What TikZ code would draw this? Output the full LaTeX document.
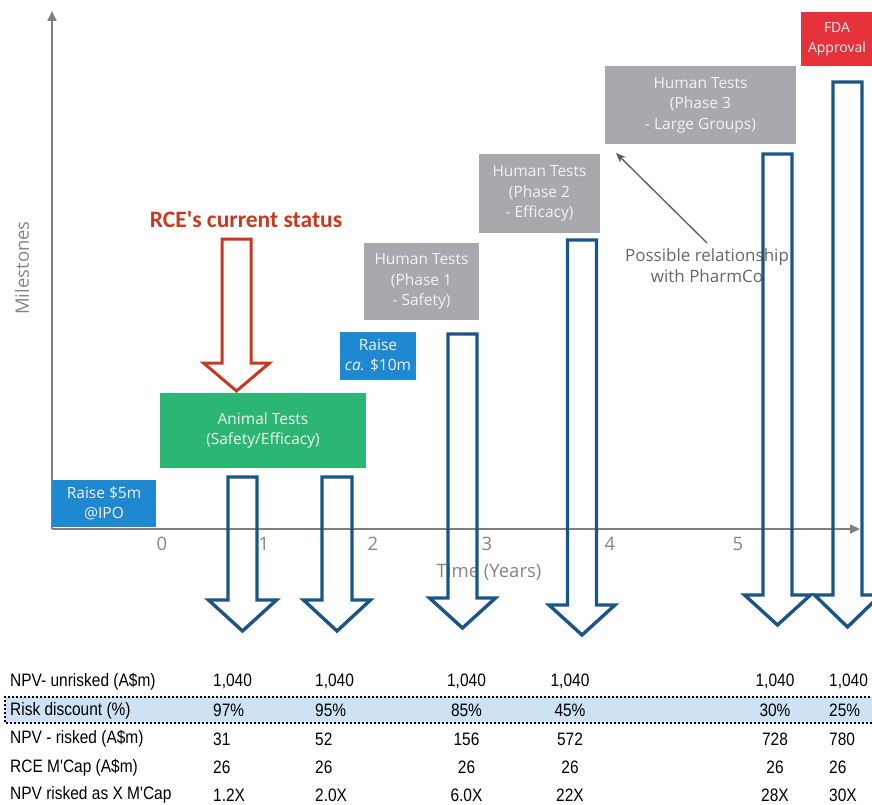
\documentclass[tikz,border=0pt]{standalone}
\usepackage{fontspec}
\setmainfont{Open Sans}
\newfontfamily\tabfont[FakeStretch=0.86]{Liberation Sans}
\newfontfamily\calfont{Carlito}
\usetikzlibrary{arrows.meta,calc}
\definecolor{cblue}{HTML}{1E88D0}
\definecolor{cgreen}{HTML}{2BB673}
\definecolor{cgray}{HTML}{A7A9AC}
\definecolor{cred}{HTML}{E5323B}
\definecolor{carrowred}{HTML}{C8391E}
\definecolor{carrowblue}{HTML}{1B5586}
\definecolor{caxis}{HTML}{7F7F7F}
\definecolor{clabel}{HTML}{858585}
\definecolor{chl}{HTML}{CFE2F3}
\newcommand\blkarrow[7]{%
  \draw[#1] (#2-#3,#4) -- (#2+#3,#4) -- (#2+#3,#5) -- (#2+#6,#5) -- (#2,#7)
    -- (#2-#6,#5) -- (#2-#3,#5) -- cycle;}
\begin{document}
\begin{tikzpicture}[x=1pt,y=-1pt,
  mbox/.style={inner sep=0pt, text=white!95!black, align=center,
    font=\fontsize{15.5}{20.5}\selectfont},
  axisline/.style={draw=caxis, line width=1.6pt},
  ticklab/.style={text=clabel, font=\fontsize{18.5}{20}\selectfont, inner sep=0pt},
  bluearrow/.style={draw=carrowblue, line width=3.4pt, line join=miter},
  redarrow/.style={draw=carrowred, line width=3pt, line join=miter},
  rowlab/.style={anchor=west, inner sep=0pt, font=\tabfont\fontsize{18}{20}\selectfont},
  cellw/.style={anchor=west, inner sep=0pt, font=\tabfont\fontsize{18}{20}\selectfont},
  cellc/.style={anchor=center, inner sep=0pt, font=\tabfont\fontsize{18}{20}\selectfont}]
\useasboundingbox (0,0) rectangle (872,805);

% axes
\coordinate (O) at (52,529);
\coordinate (ytop) at (52,11);
\coordinate (xend) at (860,529);
\draw[axisline, -{Triangle[length=10pt,width=9pt]}] (O) -- (ytop);
\draw[axisline, -{Triangle[length=10pt,width=9pt]}] (O) -- (xend);
\node[ticklab, rotate=90] (ylab) at (22,268) {Milestones};
\node[ticklab] (t0) at (162,544) {0};
\node[ticklab] (t1) at (264,544) {1};
\node[ticklab] (t2) at (373,544) {2};
\node[ticklab] (t3) at (487,544) {3};
\node[ticklab] (t4) at (610,544) {4};
\node[ticklab] (t5) at (738,544) {5};
\node[ticklab] (xlab) at (489,572) {Time (Years)};

% milestone boxes
\node[mbox, fill=cblue, minimum width=104, minimum height=47] (ipo) at (104,503.5) {Raise \$5m\\@IPO};
\node[mbox, fill=cgreen, minimum width=206, minimum height=75] (animal) at (263,430.5) {Animal Tests\\(Safety/Efficacy)};
\node[mbox, fill=cblue, minimum width=76, minimum height=48] (raise10) at (378,355.5) {Raise\\\textit{ca.} \$10m};
\node[mbox, fill=cgray, minimum width=115, minimum height=77] (ph1) at (421.5,281.5) {Human Tests\\(Phase 1\\- Safety)};
\node[mbox, fill=cgray, minimum width=121, minimum height=78] (ph2) at (539.5,193.5) {Human Tests\\(Phase 2\\- Efficacy)};
\node[mbox, fill=cgray, minimum width=191, minimum height=78] (ph3) at (700.5,105) {Human Tests\\(Phase 3\\- Large Groups)};
\node[mbox, fill=cred, minimum width=72, minimum height=54, font=\fontsize{14}{20}\selectfont] (fda) at (837,39) {FDA\\Approval};

% current status
\node[text=carrowred, inner sep=0pt, font=\calfont\bfseries\fontsize{23.5}{26}\selectfont] (rce) at (246,220) {RCE's current status};
\blkarrow{redarrow}{236.5}{14.5}{239}{363}{33}{391}

% PharmCo note
\node[text=black!60, align=center, inner sep=0pt, font=\fontsize{17}{21}\selectfont] (rel) at (707,265.5) {Possible relationship\\with PharmCo};
\coordinate (reltail) at (707,243);
\coordinate (reltip) at (616,153);
\draw[draw=black!65, line width=1.3pt, -{Stealth[length=10pt,width=8pt]}] (reltail) -- (reltip);

% blue arrows
\blkarrow{bluearrow}{242.5}{14.5}{477}{600}{34}{631}
\blkarrow{bluearrow}{337}{15}{477}{600}{33.5}{631}
\blkarrow{bluearrow}{462.5}{14.5}{334}{598}{33}{628}
\blkarrow{bluearrow}{582}{14.5}{240}{605}{33}{635}
\blkarrow{bluearrow}{777.5}{14.5}{154}{595}{33}{625}
\blkarrow{bluearrow}{847.5}{14.5}{82}{595}{33}{627}

% table
\fill[chl] (5,697) rectangle (874,723);
\draw[black, line width=1.3pt, dash pattern=on 2pt off 2pt] (874,697) -- (5,697) -- (5,723) -- (874,723);

\node[rowlab] (r1) at (10,681.5) {NPV- unrisked (A\$m)};
\node[rowlab] (r2) at (10,710.5) {Risk discount (\%)};
\node[rowlab] (r3) at (10,739) {NPV - risked (A\$m)};
\node[rowlab] (r4) at (10,767.5) {RCE M'Cap (A\$m)};
\node[rowlab] (r5) at (10,795) {NPV risked as X M'Cap};

\foreach \y/\a/\b/\c/\d/\e/\f [count=\i] in {
  681.5/{1,040}/{1,040}/{1,040}/{1,040}/{1,040}/{1,040},
  710.5/97\%/95\%/85\%/45\%/30\%/25\%,
  739/31/52/156/572/728/780,
  767.5/26/26/26/26/26/26,
  795/1.2X/2.0X/6.0X/22X/28X/30X} {
  \node[cellw] (c\i a) at (213,\y) {\a};
  \node[cellw] (c\i b) at (315,\y) {\b};
  \node[cellc] (c\i c) at (466.5,\y) {\c};
  \node[cellc] (c\i d) at (570,\y) {\d};
  \node[cellc] (c\i e) at (775,\y) {\e};
  \node[cellw] (c\i f) at (829,\y) {\f};
}
\end{tikzpicture}
\end{document}
